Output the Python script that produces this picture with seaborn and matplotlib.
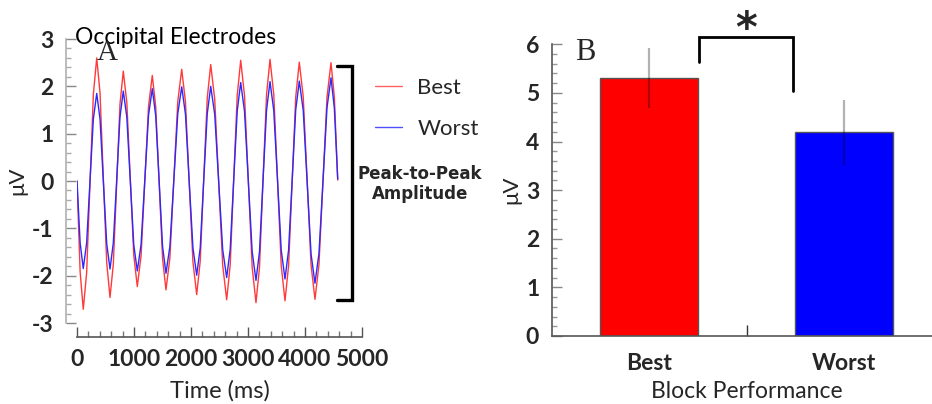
import numpy as np
import pandas as pd
import matplotlib
matplotlib.use("Agg")
import matplotlib.pyplot as plt
import seaborn as sns
from matplotlib.ticker import MultipleLocator, FixedLocator

# ---------------- data ----------------
time_ms = [0, 55, 110, 169, 228, 287, 346, 404, 462, 521, 579, 637, 696, 754, 812,
           874, 935, 996, 1058, 1124, 1190, 1255, 1321, 1381, 1441, 1501, 1561,
           1630, 1699, 1768, 1837, 1903, 1968, 2034, 2100, 2162, 2223, 2285, 2346,
           2416, 2486, 2556, 2626, 2688, 2749, 2811, 2872, 2939, 3006, 3073, 3140,
           3202, 3263, 3325, 3386, 3452, 3518, 3583, 3649, 3712, 3775, 3837, 3900,
           3969, 4038, 4106, 4175, 4245, 4316, 4386, 4456, 4515, 4574]
best_uv = [0, -1.92, -2.71, -1.94, -0.06, 1.83, 2.60, 1.86, 0.07, -1.72, -2.46, -1.76,
           -0.07, 1.62, 2.32, 1.66, 0.05, -1.57, -2.23, -1.58, 0.00, 1.58, 2.23, 1.57,
           -0.03, -1.64, -2.30, -1.62, 0.03, 1.68, 2.36, 1.67, -0.02, -1.71, -2.40,
           -1.69, 0.03, 1.75, 2.46, 1.73, -0.03, -1.78, -2.51, -1.77, 0.02, 1.81, 2.55,
           1.80, -0.01, -1.82, -2.57, -1.82, 0.00, 1.82, 2.57, 1.83, 0.02, -1.79, -2.53,
           -1.79, -0.01, 1.77, 2.51, 1.78, 0.01, -1.77, -2.50, -1.77, 0.00, 1.77, 2.50,
           1.77, 0.02]
worst_uv = [0, -1.31, -1.85, -1.31, 0.00, 1.31, 1.85, 1.31, -0.01, -1.32, -1.86, -1.31,
            0.02, 1.35, 1.90, 1.35, 0.00, -1.35, -1.90, -1.34, 0.03, 1.39, 1.95, 1.38,
            0.00, -1.38, -1.95, -1.38, 0.02, 1.42, 1.99, 1.41, 0.00, -1.41, -1.99,
            -1.41, 0.01, 1.42, 2.00, 1.41, -0.02, -1.45, -2.04, -1.44, 0.02, 1.48, 2.08,
            1.47, -0.01, -1.49, -2.10, -1.49, 0.00, 1.49, 2.10, 1.49, 0.02, -1.46, -2.07,
            -1.46, 0.02, 1.50, 2.11, 1.49, -0.03, -1.54, -2.16, -1.53, 0.01, 1.55, 2.18,
            1.54, 0.04]
series_names = ["Best", "Worst"]

block_categories = ["Best", "Worst"]
block_amplitude = [5.30, 4.19]
block_error = [0.62, 0.67]

x_ticks_time = [0, 1000, 2000, 3000, 4000, 5000]
y_ticks_wave = [-3, -2, -1, 0, 1, 2, 3]
y_ticks_bar = [0, 1, 2, 3, 4, 5, 6]

# ---------------- style ----------------
sns.set_theme(style="white")
plt.rcParams["font.family"] = ["Lato", "DejaVu Sans"]
plt.rcParams["axes.unicode_minus"] = False

fig = plt.figure(figsize=(9.32, 4.04), dpi=100)
W, H = 932, 404

def px_axes(l, t, r, b):
    return fig.add_axes([l / W, 1 - b / H, (r - l) / W, (b - t) / H])

TICKFONT = 16.5

# ---------------- panel A ----------------
axA = px_axes(77, 39, 362, 323)
wave = pd.DataFrame({
    "time": time_ms * 2,
    "uv": best_uv + worst_uv,
    "cond": [series_names[0]] * len(time_ms) + [series_names[1]] * len(time_ms),
})
sns.lineplot(data=wave, x="time", y="uv", hue="cond", estimator=None,
             palette={"Best": "#ff3a3a", "Worst": "#2a2aff"},
             linewidth=1.0, ax=axA, legend=True)
axA.set_xlim(0, 5000)
axA.set_ylim(-3, 3)
axA.set_xticks(x_ticks_time)
axA.set_yticks(y_ticks_wave)
axA.xaxis.set_minor_locator(MultipleLocator(200))
axA.yaxis.set_minor_locator(MultipleLocator(0.2))
axA.spines["top"].set_visible(False)
axA.spines["right"].set_visible(False)
axA.spines["left"].set_position(("outward", 8))
axA.spines["bottom"].set_position(("outward", 10))
axA.spines["left"].set_color("#b0b0b0")
axA.spines["bottom"].set_color("#555555")
axA.spines["left"].set_linewidth(1.2)
axA.spines["bottom"].set_linewidth(1.2)
axA.tick_params(axis="y", which="major", direction="in", length=7, width=1,
                color="#888888", pad=9, labelsize=TICKFONT, left=True)
axA.tick_params(axis="y", which="minor", direction="in", length=3.5, width=1,
                color="#aaaaaa", left=True)
axA.tick_params(axis="x", which="major", direction="in", length=7, width=1,
                color="#555555", pad=9, labelsize=TICKFONT, bottom=True)
axA.tick_params(axis="x", which="minor", direction="in", length=4, width=1,
                color="#777777", bottom=True)
for lab in axA.get_xticklabels() + axA.get_yticklabels():
    lab.set_fontweight("bold")
axA.set_xlabel("Time (ms)", fontsize=17, labelpad=7)
axA.set_ylabel("μV", fontsize=16, labelpad=3)

leg = axA.legend(loc="upper left", bbox_to_anchor=(355 / W, 1 - 58 / H),
                 bbox_transform=fig.transFigure, frameon=False, fontsize=16,
                 handlelength=1.2, handletextpad=0.7, labelspacing=0.95)
for line in leg.get_lines():
    line.set_linewidth(1.0)
leg.get_lines()[0].set_color("#ff6060")
leg.get_lines()[1].set_color("#5050ff")

axA.text(-0.007, 1.005, "Occipital Electrodes", transform=axA.transAxes,
         fontsize=16.5, va="center", ha="left", color="black")
axA.text(0.068, 0.925, "A", transform=axA.transAxes, fontsize=21,
         family="Liberation Serif", va="baseline", ha="left")

# bracket for peak-to-peak amplitude
axA.plot([4561, 4819, 4819, 4561], [2.43, 2.43, -2.51, -2.51], color="black",
         lw=2.4, clip_on=False, solid_joinstyle="miter")
fig.text(420 / W, 1 - 184 / H, "Peak-to-Peak\nAmplitude", ha="center", va="center",
         fontsize=12, fontweight="heavy", family="DejaVu Sans", linespacing=1.15)

# ---------------- panel B ----------------
axB = px_axes(551.7, 44.3, 941.7, 336)
bars = pd.DataFrame({"block": block_categories, "amp": block_amplitude})
sns.barplot(data=bars, x="block", y="amp", hue="block",
            palette={"Best": "#ff0000", "Worst": "#0000ff"}, saturation=1,
            width=0.5, edgecolor="#555555", linewidth=1.0,
            errorbar=None, legend=False, ax=axB)
axB.errorbar(x=[0, 1], y=block_amplitude, yerr=block_error, fmt="none",
             ecolor=(0, 0, 0, 0.3), elinewidth=1.6, capsize=0, zorder=5)
axB.set_xlim(-0.5, 1.5)
axB.set_ylim(0, 6)
axB.set_yticks(y_ticks_bar)
axB.yaxis.set_minor_locator(MultipleLocator(0.2))
axB.xaxis.set_minor_locator(FixedLocator([0.5]))
axB.spines["top"].set_visible(False)
axB.spines["right"].set_visible(False)
axB.spines["left"].set_color("#555555")
axB.spines["bottom"].set_color("#555555")
axB.spines["left"].set_linewidth(1.2)
axB.spines["bottom"].set_linewidth(1.2)
axB.tick_params(axis="y", which="major", direction="in", length=7, width=1,
                color="#888888", pad=9, labelsize=TICKFONT, left=True)
axB.tick_params(axis="y", which="minor", direction="in", length=3.5, width=1,
                color="#999999", left=True)
axB.tick_params(axis="x", which="major", length=0, pad=12, labelsize=TICKFONT)
axB.tick_params(axis="x", which="minor", direction="in", length=8, width=1,
                color="#333333", bottom=True)
for lab in axB.get_xticklabels() + axB.get_yticklabels():
    lab.set_fontweight("bold")
axB.set_xlabel("Block Performance", fontsize=16.5, labelpad=5)
axB.set_ylabel("μV", fontsize=16, labelpad=3)
axB.text(0.06, 0.946, "B", transform=axB.transAxes, fontsize=22,
         family="Liberation Serif", va="baseline", ha="left")

# significance bracket
axB.plot([0.254, 0.254, 0.737, 0.737], [5.63, 6.14, 6.14, 5.03], color="black",
         lw=2.0, clip_on=False, solid_joinstyle="miter")
axB.text(0.495, 6.3, "*", fontsize=30, fontweight="bold", ha="center", va="center",
         family="DejaVu Sans")

fig.savefig("out.png", dpi=100)
